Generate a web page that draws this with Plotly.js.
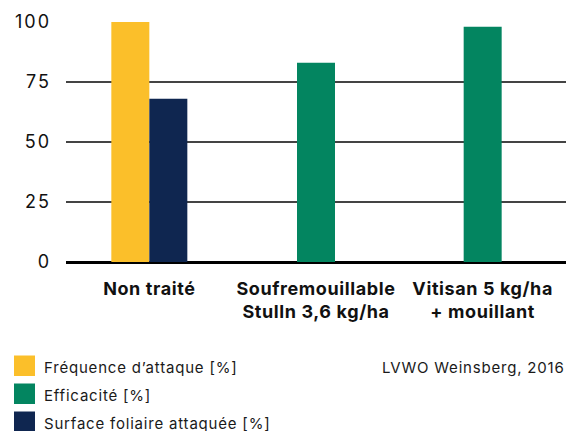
<!DOCTYPE html>
<html><head><meta charset="utf-8">
<script src="https://cdn.plot.ly/plotly-3.0.1.min.js"></script>
<style>
html,body{margin:0;padding:0;background:#fff}
#c{width:566px;height:431px}
#c .ytick text{letter-spacing:2px}
#c .xtick text{letter-spacing:0.6px}
</style>
</head><body><div id="c"></div>
<script>
const categories = ['Non traité', 'Soufremouillable<br>Stulln 3,6 kg/ha', 'Vitisan 5 kg/ha<br>+ mouillant'];
const frequenceCats = ['Non traité'];
const frequenceVals = [100];
const surfaceCats = ['Non traité'];
const surfaceVals = [68];
const efficaciteCats = ['Soufremouillable<br>Stulln 3,6 kg/ha', 'Vitisan 5 kg/ha<br>+ mouillant'];
const efficaciteVals = [83, 98];
const yTicks = [0, 25, 50, 75, 100];
const legendLabels = ['Fréquence d’attaque [%]', 'Efficacité [%]', 'Surface foliaire attaquée [%]'];
const colors = ['#fbbf2a', '#038560', '#0f2650'];
const source = 'LVWO Weinsberg, 2016';

const W = 0.228;
const FONT = 'Inter, "Noto Sans", sans-serif';
const spaced = t => '<span style="letter-spacing:0.8px">' + t + '</span>';
const traces = [
  {type:'bar', name:legendLabels[0], x:frequenceCats, y:frequenceVals, marker:{color:colors[0]}, width:W, offset:-W},
  {type:'bar', name:legendLabels[2], x:surfaceCats, y:surfaceVals, marker:{color:colors[2]}, width:W, offset:0},
  {type:'bar', name:legendLabels[1], x:efficaciteCats, y:efficaciteVals, marker:{color:colors[1]}, width:W, offset:-W/2}
];
// legend drawn in paper coordinates (pixel helpers)
const L = 66, R = 566, T = 22, B = 262;
const px = v => (v - L) / (R - L);
const py = v => (B - v) / (B - T);
const shapes = [], annotations = [];
const legendOrder = [0, 1, 2];
const legendY = [365.5, 393.5, 421.5];
legendOrder.forEach((k, i) => {
  shapes.push({type:'rect', xref:'paper', yref:'paper', x0:px(14), x1:px(35), y0:py(legendY[i]-10), y1:py(legendY[i]+10.5), fillcolor:colors[k], line:{width:0}});
  annotations.push({xref:'paper', yref:'paper', x:px(41.5), y:py(legendY[i]+1.5), xanchor:'left', yanchor:'middle', text:spaced(legendLabels[k]), showarrow:false, font:{family:FONT, size:15, color:'#1a1a1a'}});
});
annotations.push({xref:'paper', yref:'paper', x:px(567), y:py(367), xanchor:'right', yanchor:'middle', text:spaced(source), showarrow:false, font:{family:FONT, size:15, color:'#1a1a1a'}});

const layout = {
  width:566, height:431,
  margin:{l:L, r:566-R, t:T, b:431-B, pad:0},
  paper_bgcolor:'#fff', plot_bgcolor:'#fff',
  barmode:'overlay', showlegend:false,
  font:{family:FONT, color:'#111'},
  xaxis:{type:'category', categoryorder:'array', categoryarray:categories, range:[-0.5, 2.5],
         showgrid:false, zeroline:false, showline:false, ticks:'', ticklabelstandoff:14,
         tickfont:{family:FONT, size:18, color:'#111', weight:'bold'}, fixedrange:true},
  yaxis:{range:[0,100], tickvals:yTicks, ticktext:yTicks.map(String), showgrid:true, gridcolor:'#444', gridwidth:1.5,
         zeroline:true, zerolinecolor:'#000', zerolinewidth:3, showline:false, ticks:'', ticklabelstandoff:14,
         tickfont:{family:FONT, size:18, color:'#111'}, fixedrange:true},
  shapes:shapes, annotations:annotations
};
Plotly.newPlot('c', traces, layout, {displayModeBar:false, staticPlot:true});
</script></body></html>
